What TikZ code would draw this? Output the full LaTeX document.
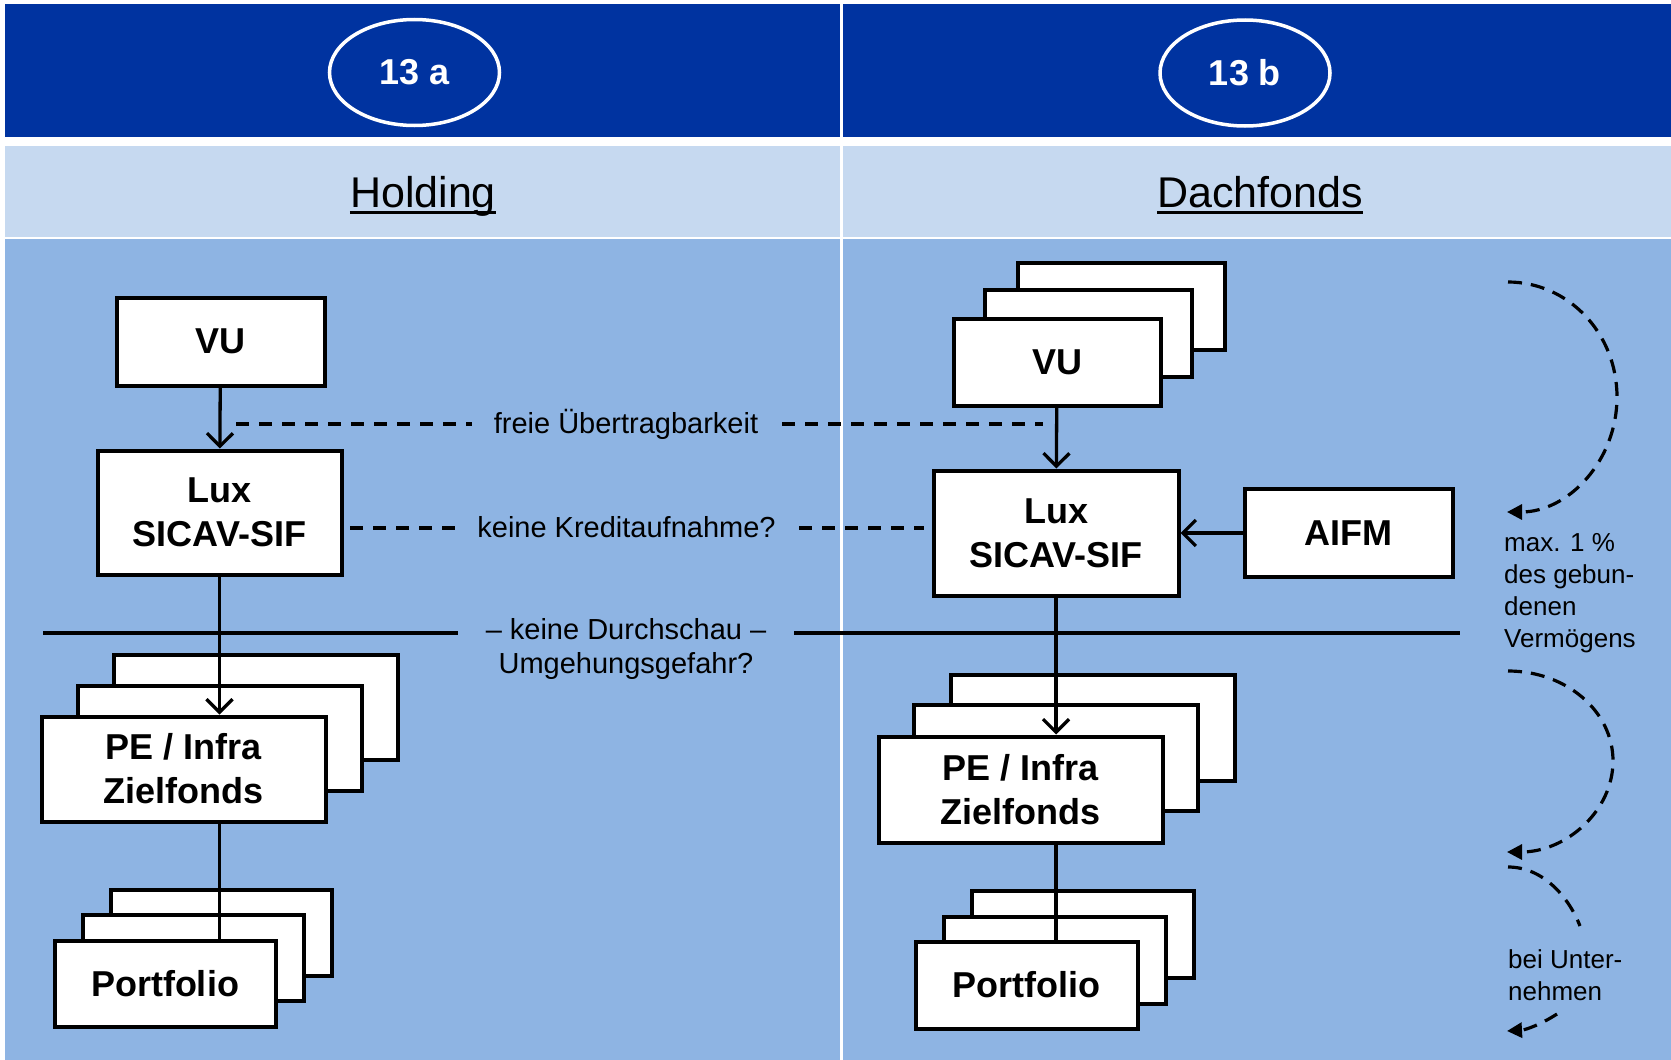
\documentclass[tikz,border=0pt]{standalone}
\usepackage{fontspec}
\setmainfont{Liberation Sans}
\usetikzlibrary{arrows.meta,shapes.geometric}
\definecolor{darkblue}{RGB}{0,51,160}
\definecolor{lightband}{RGB}{198,217,240}
\definecolor{midblue}{RGB}{142,180,227}
\begin{document}
\begin{tikzpicture}[x=1pt,y=-1pt,
  box/.style={draw=black, fill=white, line width=4pt, inner sep=0pt, align=center,
    font=\bfseries\fontsize{36}{44}\selectfont},
  conn/.style={line width=3.3pt},
  barb/.style={conn, -{Straight Barb[length=13pt,width=26pt]}},
  dline/.style={line width=3.3pt, dash pattern=on 13pt off 10pt},
  carrow/.style={line width=3.2pt, dash pattern=on 14pt off 9pt, -{Triangle[length=15pt,width=15pt]}},
  cline/.style={line width=3.2pt, dash pattern=on 14pt off 9pt},
  oval/.style={ellipse, draw=white, line width=3.5pt, inner sep=0pt, text=white,
    font=\bfseries\fontsize{36}{44}\selectfont},
  head/.style={inner sep=0pt, anchor=base, font=\fontsize{43}{50}\selectfont},
  lbl/.style={inner sep=0pt, anchor=base, font=\fontsize{29}{33}\selectfont},
  side/.style={inner sep=0pt, anchor=west, align=left, font=\fontsize{26}{32}\selectfont}
]
\useasboundingbox (0,0) rectangle (1671,1060);
% backgrounds
\fill[white] (0,0) rectangle (1671,1060);
\fill[darkblue] (5,4) rectangle (840,137);
\fill[darkblue] (843,4) rectangle (1671,137);
\fill[lightband] (5,146) rectangle (840,237);
\fill[lightband] (843,146) rectangle (1671,237);
\fill[midblue] (5,239) rectangle (840,1060);
\fill[midblue] (843,239) rectangle (1671,1060);

% headers
\node[oval, minimum width=170, minimum height=106] (ovA) at (414.5,72.5) {13 a};
\node[oval, minimum width=170, minimum height=106] (ovB) at (1245,73) {13 b};
\node[head] (hold) at (423,207) {Holding};
\node[head] (dach) at (1260,207) {Dachfonds};
\draw[line width=3pt] (hold.base west) ++(0,5) coordinate (hu1) -- (hu1 -| hold.base east);
\draw[line width=3pt] (dach.base west) ++(0,5) coordinate (du1) -- (du1 -| dach.base east);

% left column
\node[box, minimum width=208, minimum height=88] (vuA) at (220.5,341.5) {VU};
\node[box, minimum width=244, minimum height=124] (luxA) at (219.5,512.5) {Lux\\SICAV-SIF};
\node[box, minimum width=284, minimum height=105] (peA3) at (255.5,707) {};
\node[box, minimum width=284, minimum height=105] (peA2) at (219.5,738) {};
\node[box, minimum width=284, minimum height=105] (peA) at (183.5,769) {PE / Infra\\Zielfonds};
\node[box, minimum width=221, minimum height=86] (pfA3) at (221,932.5) {};
\node[box, minimum width=221, minimum height=86] (pfA2) at (193,957.5) {};

% right column
\node[box, minimum width=207, minimum height=87] (vuB3) at (1121,306) {};
\node[box, minimum width=207, minimum height=87] (vuB2) at (1088,333) {};
\node[box, minimum width=207, minimum height=87] (vuB) at (1057,362) {VU};
\node[box, minimum width=245, minimum height=125] (luxB) at (1056,533) {Lux\\SICAV-SIF};
\node[box, minimum width=208, minimum height=88] (aifm) at (1348.5,533) {AIFM};
\node[box, minimum width=284, minimum height=106] (peB3) at (1092.5,727.5) {};
\node[box, minimum width=284, minimum height=106] (peB2) at (1055.5,757.5) {};
\node[box, minimum width=284, minimum height=106] (peB) at (1020.5,789.5) {PE / Infra\\Zielfonds};
\node[box, minimum width=222, minimum height=87] (pfB3) at (1082.5,934.5) {};
\node[box, minimum width=222, minimum height=87] (pfB2) at (1054.5,960) {};

% connectors
\draw[barb] (vuA) -- (luxA);
\draw[barb] (luxA.south) -- (luxA.south |- peA.north);
\draw[conn] (luxA.south |- peA.south) -- (luxA.south |- 0,939);
\node[box, minimum width=221, minimum height=86] (pfA) at (165,983.5) {Portfolio};
\draw[barb] (vuB) -- (luxB);
\draw[barb] (aifm) -- (luxB);
\draw[barb] (luxB.south) -- (luxB.south |- peB.north);
\draw[conn] (luxB.south |- peB.south) -- (luxB.south |- 0,941);
\node[box, minimum width=222, minimum height=87] (pfB) at (1026.5,985) {Portfolio};

% middle labels and lines
\node[lbl] (frei) at (626,433) {freie Übertragbarkeit};
\coordinate (f1) at (236,424); \coordinate (f2) at (472,424);
\coordinate (f3) at (782,424); \coordinate (f4) at (1043,424);
\draw[dline] (f1) -- (f2);
\draw[dline] (f3) -- (f4);
\node[lbl] (kredit) at (626.5,537) {keine Kreditaufnahme?};
\coordinate (k1) at (350,528); \coordinate (k2) at (458,528);
\coordinate (k3) at (799,528); \coordinate (k4) at (924,528);
\draw[dline] (k1) -- (k2);
\draw[dline] (k3) -- (k4);
\node[lbl] (durch) at (626,639) {– keine Durchschau –};
\node[lbl] (umg) at (626,673) {Umgehungsgefahr?};
\coordinate (s1) at (43,633); \coordinate (s2) at (458,633);
\coordinate (s3) at (794,633); \coordinate (s4) at (1460,633);
\draw[conn] (s1) -- (s2);
\draw[conn] (s3) -- (s4);

% right side notes
\coordinate (a1) at (1508,282); \coordinate (a2) at (1617,397); \coordinate (a3) at (1507,512);
\draw[carrow] (a1) .. controls (1568,282) and (1617,333) .. (a2) .. controls (1617,461) and (1568,512) .. (a3);
\node[side] (maxt) at (1504,593) {max. 1 \%\\des gebun-\\denen\\Vermögens};
\coordinate (b1) at (1508,671); \coordinate (b2) at (1613,761); \coordinate (b3) at (1507,852);
\draw[carrow] (b1) .. controls (1566,671) and (1613,711) .. (b2) .. controls (1613,811) and (1566,852) .. (b3);
\coordinate (c1) at (1508,867); \coordinate (c2) at (1580,926);
\draw[cline] (c1) .. controls (1545,867) and (1570,900) .. (c2);
\node[side] (bei) at (1508,975) {bei Unter-\\nehmen};
\coordinate (d1) at (1557,1014); \coordinate (d2) at (1507,1031);
\draw[carrow] (d1) .. controls (1540,1025) and (1525,1030) .. (d2);
\end{tikzpicture}
\end{document}
